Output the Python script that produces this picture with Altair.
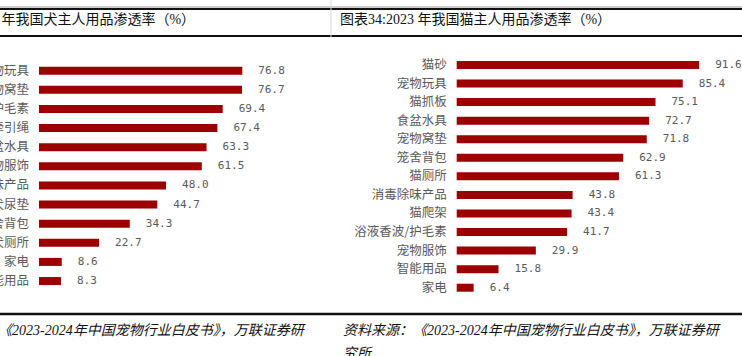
import altair as alt
import pandas as pd

# ---- data ----
dog_cats = ["宠物玩具", "宠物窝垫", "浴液香波/护毛素", "牵引绳", "食盆水具", "宠物服饰",
            "消毒除味产品", "犬尿垫", "笼舍背包", "犬厕所", "家电", "智能用品"]
dog_vals = [76.8, 76.7, 69.4, 67.4, 63.3, 61.5, 48.0, 44.7, 34.3, 22.7, 8.6, 8.3]

cat_cats = ["猫砂", "宠物玩具", "猫抓板", "食盆水具", "宠物窝垫", "笼舍背包", "猫厕所",
            "消毒除味产品", "猫爬架", "浴液香波/护毛素", "宠物服饰", "智能用品", "家电"]
cat_vals = [91.6, 85.4, 75.1, 72.7, 71.8, 62.9, 61.3, 43.8, 43.4, 41.7, 29.9, 15.8, 6.4]

title_left = "图表33:2023 年我国犬主人用品渗透率（%）"
title_right = "图表34:2023 年我国猫主人用品渗透率（%）"
source_line1 = "资料来源：《2023-2024年中国宠物行业白皮书》，万联证券研"
source_line2 = "究所"

BAR = "#9C0000"
GRAY = "#595959"
CJK = "Noto Sans CJK SC"
SERIF = "Liberation Serif, Noto Sans CJK SC"

dfL = pd.DataFrame({"c": dog_cats, "v": dog_vals})
dfR = pd.DataFrame({"c": cat_cats, "v": cat_vals})
one = pd.DataFrame({"k": [0]})


def text_at(txt, x, y, size, italic=False):
    return alt.Chart(pd.DataFrame({"t": [txt]})).mark_text(
        align="left", baseline="middle", font=SERIF, fontSize=size,
        fontStyle="italic" if italic else "normal", color="#111111").encode(
        x=alt.value(x), y=alt.value(y), text="t:N")


def hrule(y, w, x1=0, x2=742, color="#111111"):
    return alt.Chart(one).mark_rule(color=color, strokeWidth=w).encode(
        x=alt.value(x1), x2=alt.value(x2), y=alt.value(y))


def panel(df, xrange, yrange, extra=()):
    xs = alt.Scale(domain=[0, 100], range=xrange)
    ys = alt.Scale(range=yrange, paddingInner=0, paddingOuter=0)
    base = alt.Chart(df).transform_calculate(z="0")
    y = alt.Y("c:N", sort=None, scale=ys, axis=None)
    bars = base.mark_bar(color=BAR, size=8).encode(
        x=alt.X("v:Q", scale=xs, axis=None), y=y)
    labels = base.mark_text(align="right", baseline="middle", dx=-10,
                            font=CJK, fontSize=12.5, color=GRAY).encode(
        x=alt.X("z:Q", scale=xs, axis=None), y=y, text="c:N")
    vals = base.mark_text(align="left", baseline="middle", dx=16,
                          font="DejaVu Sans Mono", fontSize=11, color=GRAY).encode(
        x=alt.X("v:Q", scale=xs, axis=None), y=y,
        text=alt.Text("v:Q", format=".1f"))
    return alt.layer(bars, labels, vals, *extra)


vrule = alt.Chart(one).mark_rule(color="#d8d8d8", strokeWidth=1).encode(
    x=alt.value(331), y=alt.value(0), y2=alt.value(38))

deco = [
    hrule(7, 1, color="#999999"), hrule(9, 2), hrule(36, 2), hrule(314, 2.5), vrule,
    text_at(title_left, -76, 20, 14), text_at(title_right, 340, 20, 14),
    text_at(source_line1, -72, 331, 14, True), text_at(source_line1, 343, 331, 14, True),
    text_at(source_line2, -72, 354, 14, True), text_at(source_line2, 343, 354, 14, True),
]

left = panel(dfL, [39, 303.7], [61.1, 290.6], deco)
right = panel(dfR, [456.7, 721.4], [55.7, 297.0])

chart = alt.layer(left, right).resolve_scale(
    x="independent", y="independent"
).properties(
    width=742, height=356, padding=0,
    autosize=alt.AutoSizeParams(type="none"),
    background="white",
).configure_view(stroke=None)

chart.save("out.html", embed_options={"renderer": "svg", "actions": False})
